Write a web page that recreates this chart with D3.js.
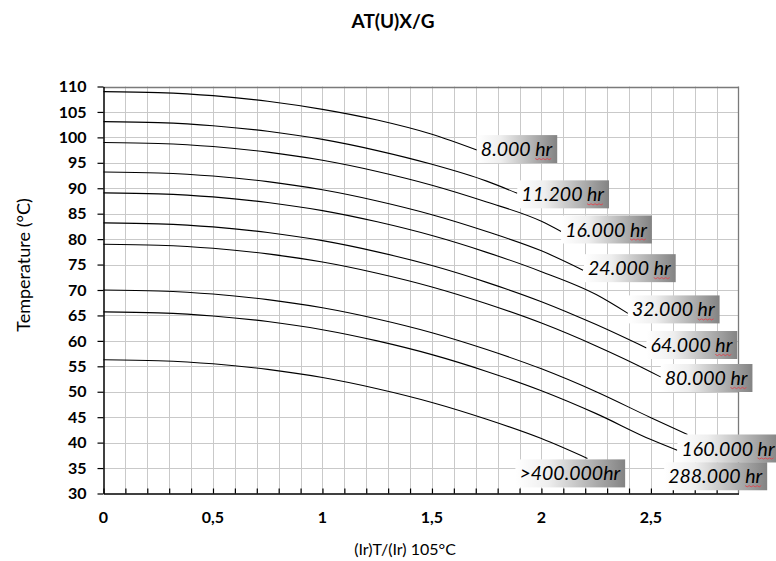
<!DOCTYPE html>
<html>
<head>
<meta charset="utf-8">
<script src="https://cdn.jsdelivr.net/npm/d3@7"></script>
<style>
  body { margin: 0; background: #fff; }
  text { font-family: Lato, "Open Sans", sans-serif; fill: #000; }
</style>
</head>
<body>
<script>
// values: [ (Ir)T/(Ir) , temperature °C ]
const h8000 = [[0, 109.0], [0.25, 108.8], [0.5, 108.2], [0.75, 107.1], [1, 105.5], [1.25, 103.4], [1.5, 100.6], [1.705, 97.5]];
const h11200 = [[0, 103.1], [0.25, 102.9], [0.5, 102.3], [0.75, 101.2], [1, 99.6], [1.25, 97.4], [1.5, 94.7], [1.75, 91.4], [1.89, 89.0]];
const h16000 = [[0, 99.0], [0.25, 98.8], [0.5, 98.2], [0.75, 97.1], [1, 95.5], [1.25, 93.3], [1.5, 90.6], [1.75, 87.3], [2, 83.5], [2.09, 81.5]];
const h24000 = [[0, 93.2], [0.25, 93.0], [0.5, 92.4], [0.75, 91.3], [1, 89.7], [1.25, 87.5], [1.5, 84.8], [1.75, 81.5], [2, 77.7], [2.19, 73.9]];
const h32000 = [[0, 89.1], [0.25, 88.9], [0.5, 88.3], [0.75, 87.2], [1, 85.6], [1.25, 83.4], [1.5, 80.7], [1.75, 77.4], [2, 73.6], [2.25, 69.1], [2.395, 65.4]];
const h64000 = [[0, 83.2], [0.25, 83.0], [0.5, 82.4], [0.75, 81.3], [1, 79.7], [1.25, 77.5], [1.5, 74.8], [1.75, 71.5], [2, 67.7], [2.25, 63.2], [2.48, 58.6]];
const h80000 = [[0, 79.0], [0.25, 78.8], [0.5, 78.2], [0.75, 77.1], [1, 75.5], [1.25, 73.3], [1.5, 70.6], [1.75, 67.3], [2, 63.5], [2.25, 59.0], [2.5, 53.9], [2.545, 52.9]];
const h160000 = [[0, 70.0], [0.25, 69.8], [0.5, 69.2], [0.75, 68.1], [1, 66.5], [1.25, 64.3], [1.5, 61.6], [1.75, 58.3], [2, 54.5], [2.25, 50.0], [2.5, 44.9], [2.667, 41.6]];
const h288000 = [[0, 65.7], [0.25, 65.5], [0.5, 64.9], [0.75, 63.8], [1, 62.2], [1.25, 60.0], [1.5, 57.3], [1.75, 54.0], [2, 50.2], [2.25, 45.7], [2.5, 40.6], [2.62, 38.5]];
const h400000 = [[0, 56.3], [0.25, 56.1], [0.5, 55.5], [0.75, 54.4], [1, 52.8], [1.25, 50.6], [1.5, 47.9], [1.75, 44.6], [2, 40.8], [2.21, 36.9]];

const curveNames = ["8.000 hr", "11.200 hr", "16.000 hr", "24.000 hr", "32.000 hr", "64.000 hr", "80.000 hr", "160.000 hr", "288.000 hr", ">400.000hr"];
const curvePoints = [h8000, h11200, h16000, h24000, h32000, h64000, h80000, h160000, h288000, h400000];

const xTickValues = [0, 0.5, 1, 1.5, 2, 2.5];
const xTickText = ["0", "0,5", "1", "1,5", "2", "2,5"];
const yTickValues = [30, 35, 40, 45, 50, 55, 60, 65, 70, 75, 80, 85, 90, 95, 100, 105, 110];

const title = "AT(U)X/G";
const xTitle = "(Ir)T/(Ir) 105°C";
const yTitle = "Temperature (°C)";

// label box placement relative to the curve end, in pixels
const labelShift = [[0, -1], [0, 1], [0, -2], [1, -2], [0, -4], [0, -3], [0, 1], [-10, 14], [-13, 26], [-72, 15]];

let width = 776, height = 561;

let x = d3.scaleLinear().domain([0, 2.9]).range([103.5, 738.5]);
let y = d3.scaleLinear().domain([30, 110]).range([493.5, 86.5]);

let svg = d3.select("body")
            .append("svg")
            .attr("width", width)
            .attr("height", height);

svg.append("rect")
   .attr("width", width)
   .attr("height", height)
   .attr("fill", "#fff");

let grad = svg.append("defs")
              .append("linearGradient")
              .attr("id", "lblGrad")
              .attr("x1", 0).attr("x2", 1)
              .attr("y1", 0).attr("y2", 0);
grad.append("stop").attr("offset", 0).attr("stop-color", "#ffffff");
grad.append("stop").attr("offset", 0.3).attr("stop-color", "#eeeeee");
grad.append("stop").attr("offset", 1).attr("stop-color", "#838383");

// grid
let gridX = d3.range(1, 29).map(i => i / 10);
svg.append("g")
   .selectAll("line")
   .data(gridX)
   .join("line")
   .attr("x1", d => Math.round(x(d)) + 0.5)
   .attr("x2", d => Math.round(x(d)) + 0.5)
   .attr("y1", y(110))
   .attr("y2", y(30))
   .attr("stroke", "#c9c9c9")
   .attr("stroke-width", 1);

svg.append("g")
   .selectAll("line")
   .data(yTickValues.filter(d => d > 30 && d < 110))
   .join("line")
   .attr("x1", x(0))
   .attr("x2", x(2.9))
   .attr("y1", d => Math.round(y(d)) + 0.5)
   .attr("y2", d => Math.round(y(d)) + 0.5)
   .attr("stroke", "#c9c9c9")
   .attr("stroke-width", 1);

// top and right frame
svg.append("line")
   .attr("x1", x(0)).attr("x2", x(2.9))
   .attr("y1", Math.round(y(110)) + 0.5).attr("y2", Math.round(y(110)) + 0.5)
   .attr("stroke", "#7a7a7a").attr("stroke-width", 1.3);
svg.append("line")
   .attr("x1", x(2.9)).attr("x2", x(2.9))
   .attr("y1", y(110)).attr("y2", y(30))
   .attr("stroke", "#7a7a7a").attr("stroke-width", 1.3);

// curves
let lineSpec = d3.line()
                 .x(d => x(d[0]))
                 .y(d => y(d[1]))
                 .curve(d3.curveMonotoneX);

svg.append("g")
   .selectAll("path")
   .data(curvePoints)
   .join("path")
   .attr("d", lineSpec)
   .attr("fill", "none")
   .attr("stroke", "#000")
   .attr("stroke-width", 1.1);

// axes
let xAxis = svg.append("g")
               .attr("transform", "translate(0," + y(30) + ")")
               .call(d3.axisBottom(x)
                       .tickValues(d3.range(0, 29).map(i => i / 10))
                       .tickSize(-5)
                       .tickSizeOuter(0)
                       .tickFormat(""));
xAxis.select(".domain").attr("stroke", "#000").attr("stroke-width", 1.5);
xAxis.selectAll(".tick line").attr("stroke", "#000").attr("stroke-width", 1.2);

svg.append("g")
   .selectAll("text")
   .data(xTickValues)
   .join("text")
   .attr("x", d => x(d))
   .attr("y", 523)
   .attr("text-anchor", "middle")
   .attr("font-size", 16)
   .attr("font-weight", "bold")
   .text((d, i) => xTickText[i]);

let yAxis = svg.append("g")
               .attr("transform", "translate(" + x(0) + ",0)")
               .call(d3.axisLeft(y)
                       .tickValues(yTickValues)
                       .tickSize(6)
                       .tickSizeOuter(0)
                       .tickPadding(11));
yAxis.select(".domain").attr("stroke", "#000").attr("stroke-width", 1.5);
yAxis.selectAll(".tick line").attr("stroke", "#000").attr("stroke-width", 1.2);
yAxis.selectAll(".tick text")
     .attr("font-family", "Lato, sans-serif")
     .attr("font-size", 16)
     .attr("font-weight", "bold")
     .attr("fill", "#000");

// titles
svg.append("text")
   .attr("x", 393)
   .attr("y", 28)
   .attr("text-anchor", "middle")
   .attr("font-size", 19)
   .attr("font-weight", "bold")
   .text(title);

svg.append("text")
   .attr("x", 405)
   .attr("y", 555)
   .attr("text-anchor", "middle")
   .attr("font-size", 16)
   .text(xTitle);

svg.append("text")
   .attr("transform", "translate(30,265) rotate(-90)")
   .attr("text-anchor", "middle")
   .attr("font-size", 18)
   .text(yTitle);

// curve labels
for (var i = 0; i < curvePoints.length; i++) {
  let last = curvePoints[i][curvePoints[i].length - 1];
  let bx = x(last[0]) + labelShift[i][0];
  let by = y(last[1]) + labelShift[i][1];

  let g = svg.append("g")
             .attr("transform", "translate(" + bx + "," + by + ")");

  let txt = g.append("text")
             .attr("x", 4)
             .attr("y", 0)
             .attr("dy", "0.36em")
             .attr("font-size", 19.5)
             .attr("font-style", "italic")
             .text(curveNames[i]);

  let len = txt.node().getComputedTextLength();
  g.insert("rect", "text")
   .attr("x", 0)
   .attr("y", -14)
   .attr("width", len + 9)
   .attr("height", 28)
   .attr("fill", "url(#lblGrad)");

  let k = curveNames[i].indexOf(" hr");
  if (k >= 0) {
    let sx = 4 + txt.node().getSubStringLength(0, k + 1);
    let w = txt.node().getSubStringLength(k + 1, 2);
    let pts = [];
    for (var p = 0; p <= w; p += 2) {
      pts.push([sx + p, 10 + ((p / 2) % 2 ? 0.6 : -0.6)]);
    }
    g.append("path")
     .attr("d", d3.line()(pts))
     .attr("fill", "none")
     .attr("stroke", "#e0454f")
     .attr("stroke-width", 0.9);
  }
}
</script>
</body>
</html>
